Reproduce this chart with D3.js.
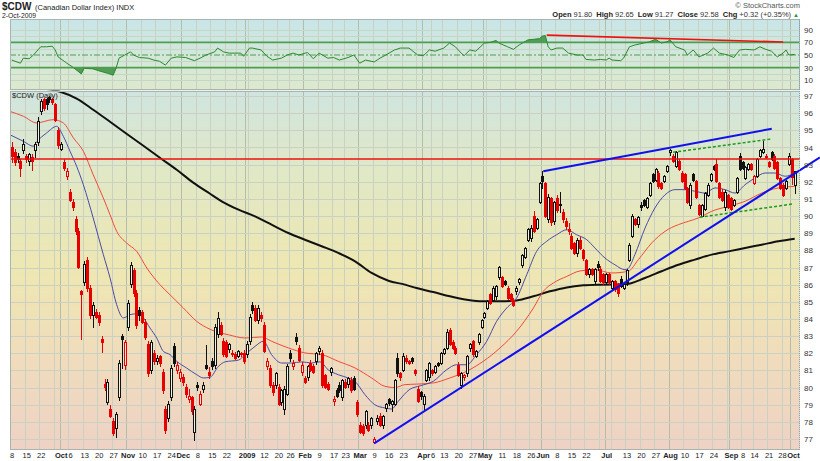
<!DOCTYPE html>
<html><head><meta charset="utf-8">
<script src="https://cdn.jsdelivr.net/npm/d3@7/dist/d3.min.js"></script>
<style>
body{margin:0;background:#fff;}
svg{display:block;font-family:"Liberation Sans",Arial,sans-serif;}
</style></head>
<body><svg id="c" width="820" height="461"></svg>
<script>
// ---------------- DATA ----------------
const startDate = "2008-09-08";
const holidays = ["2008-11-27","2008-12-25","2009-01-01","2009-01-19","2009-02-16","2009-04-10","2009-05-25","2009-07-03","2009-09-07"];
// [open, high, low, close]
const sep08 = [[94.0,94.3,93.1,93.5],[93.7,93.9,92.9,93.1],[93.5,93.7,93.1,93.3],[93.2,93.3,92.3,92.8],[93.8,94.5,93.6,94.2],[93.5,93.6,93.1,93.3],[93.2,93.7,92.9,93.6],[93.4,93.6,92.6,93.2],[93.8,94.3,93.4,94.2],[94.3,95.8,94.1,95.5],[96.1,96.8,95.9,96.7],[96.8,96.9,96.1,96.3],[96.8,96.9,96.2,96.5],[96.9,97.0,96.6,96.8],[96.8,96.9,96.5,96.6],[96.5,96.6,95.5,95.6],[95.0,95.2,93.9,94.1]];
const oct08 = [[93.9,94.3,93.8,94.2],[93.1,93.3,92.6,92.8],[92.3,92.8,92.1,92.6],[91.4,91.6,90.8,90.9],[90.8,91.0,90.3,90.5],[89.8,90.0,88.9,89.1],[89.1,89.3,86.9,87.0],[85.6,85.7,82.8,85.4],[86.1,87.4,85.9,87.2],[87.4,87.6,85.6,85.8],[85.8,86.0,84.0,84.2],[84.2,85.0,83.5,84.8],[84.4,84.6,84.0,84.1],[84.2,84.4,83.6,83.8],[82.8,83.0,82.0,82.6],[80.2,80.5,79.8,80.0],[79.1,80.5,79.0,80.3],[78.7,79.0,78.2,78.3],[78.0,78.2,77.2,77.3],[77.6,78.6,77.05,78.4],[79.4,81.6,79.2,81.4],[83.0,83.1,81.1,82.8],[81.3,82.8,81.0,82.6]];
const nov08 = [[83.5,85.1,83.3,84.9],[86.0,87.3,85.8,87.1],[86.8,87.0,85.3,85.5],[85.5,85.7,83.4,83.6],[84.5,84.7,83.9,84.2],[84.4,84.5,83.7,83.8],[83.8,84.0,82.8,82.9],[82.5,82.7,80.6,80.8],[81.0,82.8,80.8,82.6],[82.0,82.2,81.3,81.5],[81.5,81.9,81.3,81.7],[81.8,81.9,81.2,81.4],[80.9,81.1,79.6,79.8],[78.7,78.9,77.3,77.5],[78.2,79.2,78.0,79.0],[79.4,81.3,79.2,81.1],[82.4,82.6,81.2,81.4],[81.0,81.5,80.8,81.3],[80.5,81.1,80.3,80.9]];
const dec08 = [[80.6,80.8,80.1,80.3],[80.0,80.2,79.4,79.6],[79.3,79.9,79.1,79.5],[79.4,79.5,78.4,78.6],[77.4,78.9,76.9,78.7],[80.1,80.3,79.8,80.0],[79.0,79.8,78.9,79.6],[79.9,80.3,79.7,80.1],[81.3,82.5,81.0,81.1],[80.9,81.2,80.5,80.7],[81.5,81.7,81.0,81.2],[81.3,83.7,81.1,83.5],[83.1,84.4,82.9,84.0],[83.6,83.8,83.0,83.1],[82.7,82.9,81.8,81.9],[82.6,82.8,81.7,81.8],[82.2,82.6,82.0,82.5],[82.0,82.2,81.8,81.9],[81.9,82.1,81.6,81.7],[81.8,82.2,81.7,82.1],[82.0,82.1,81.8,81.9],[82.0,82.2,81.4,81.5]];
const jan09 = [[81.9,82.7,81.7,82.5],[82.7,84.3,82.5,84.1],[84.8,85.0,84.3,84.5],[84.6,84.8,83.8,83.9],[83.9,84.8,83.7,84.6],[84.2,84.4,83.8,84.0],[83.6,83.8,82.0,82.1],[81.2,81.7,81.0,81.5],[81.1,81.3,80.0,80.1],[80.1,80.3,79.5,79.7],[80.1,80.9,79.9,80.8],[80.0,80.2,78.9,79.0],[79.1,79.9,78.9,79.8],[78.7,80.1,78.4,79.9],[79.6,81.4,79.5,81.2],[82.0,82.2,81.5,81.7],[81.2,81.6,81.0,81.4],[82.9,83.2,82.5,82.7],[82.3,82.5,81.5,81.6],[80.9,81.5,80.7,81.3]];
const feb09 = [[80.5,80.7,80.2,80.3],[80.6,81.3,80.4,81.2],[81.4,81.6,80.9,81.0],[81.2,81.4,80.8,80.9],[81.5,82.1,81.3,82.0],[82.1,82.4,81.9,82.3],[82.0,82.2,80.0,80.1],[80.7,80.8,79.9,80.0],[80.2,80.3,79.8,79.9],[80.9,81.2,80.7,81.1],[79.2,79.5,78.9,79.3],[79.8,80.0,79.4,79.5],[80.1,80.3,79.7,79.8],[79.4,80.5,79.2,80.4],[80.3,80.5,79.9,80.0],[80.2,80.6,80.0,80.5],[80.4,80.6,79.7,79.8],[80.5,80.7,79.8,79.9],[79.1,79.3,78.3,78.4]];
const mar09 = [[77.8,78.0,77.3,77.4],[77.7,77.9,77.2,77.3],[77.8,78.7,77.6,78.6],[77.8,78.0,77.4,77.5],[77.8,78.3,77.6,78.2],[76.8,77.1,76.7,77.0],[78.0,78.4,77.8,78.2],[78.3,78.5,77.7,77.8],[77.8,78.4,77.6,78.3],[78.8,79.1,78.6,79.0],[79.3,79.4,78.9,79.05],[79.0,79.3,78.6,79.2],[79.0,80.5,78.9,80.4],[81.7,82.0,80.6,80.8],[80.8,80.9,80.4,80.6],[81.0,82.0,80.9,81.8],[81.7,81.9,81.4,81.5],[81.5,81.6,81.3,81.4],[81.7,81.8,81.4,81.5],[81.0,81.1,80.7,80.8],[79.9,80.1,79.1,79.2],[79.7,79.8,79.3,79.5]];
const apr09 = [[79.0,79.6,78.7,79.5],[80.4,81.1,80.3,81.0],[80.6,81.5,80.4,81.4],[81.0,81.1,80.7,80.8],[80.9,81.3,80.8,81.2],[81.4,81.5,81.2,81.3],[81.4,82.1,81.3,82.0],[82.0,82.3,81.9,82.2],[82.3,83.4,82.2,83.2],[83.3,83.5,82.4,82.5],[82.6,82.8,82.2,82.3],[82.3,82.4,81.9,82.0],[81.3,81.5,80.6,80.7],[80.1,80.9,79.9,80.8],[80.6,80.8,80.4,80.7],[80.8,81.9,80.6,81.8],[82.3,82.6,82.1,82.5],[82.7,82.8,81.8,81.9],[81.8,82.2,81.7,82.1],[82.6,83.2,82.5,83.1],[83.5,84.0,83.4,83.9]];
const may09 = [[84.1,84.4,84.0,84.3],[84.6,85.1,84.5,85.0],[85.4,85.5,84.8,84.9],[85.1,85.9,85.0,85.8],[85.3,86.0,85.1,85.9],[86.4,87.1,86.3,87.0],[86.4,86.5,85.8,85.9],[86.2,86.3,85.9,86.0],[85.8,85.9,85.1,85.2],[85.4,85.5,85.0,85.1],[85.1,85.2,84.7,84.8],[85.6,85.9,85.4,85.8],[86.1,86.4,86.0,86.3],[87.1,87.8,87.0,87.7],[87.6,88.2,87.5,88.1],[88.6,89.3,88.5,89.2],[88.7,89.5,88.5,89.3],[90.0,90.3,89.0,89.1],[89.3,89.9,89.2,89.8],[90.8,92.0,90.7,91.9]];
const jun09 = [[92.3,92.6,91.6,92.0],[91.9,92.0,89.9,90.0],[89.8,91.3,89.6,91.1],[91.0,91.1,89.4,89.6],[89.7,90.9,89.5,90.8],[91.0,91.2,90.2,90.3],[90.7,91.4,90.2,90.6],[90.2,90.4,89.6,89.8],[89.7,89.9,89.2,89.4],[89.2,89.6,88.9,89.1],[88.8,89.0,88.0,88.1],[88.4,88.5,87.7,87.8],[87.8,88.7,87.6,88.6],[88.6,88.8,88.0,88.1],[88.0,88.1,87.4,87.5],[87.4,87.5,86.5,86.6],[86.6,87.0,86.4,86.9],[86.9,87.0,86.5,86.6],[86.2,87.0,86.0,86.9],[87.2,87.4,86.8,87.0],[86.9,87.1,86.1,86.2],[86.6,86.7,86.0,86.1]];
const jul09 = [[86.1,86.7,86.0,86.6],[86.6,86.7,86.0,86.1],[85.8,86.3,85.7,86.2],[86.2,86.3,85.6,85.7],[86.0,86.1,85.3,85.5],[86.3,86.5,85.8,85.9],[85.8,86.1,85.7,86.0],[86.1,86.9,85.9,86.8],[87.4,88.4,87.3,88.3],[88.8,90.1,88.7,90.0],[89.8,89.9,89.4,89.5],[89.5,90.0,89.3,89.9],[90.6,90.8,90.3,90.5],[90.9,91.0,90.5,90.6],[90.5,91.1,90.4,91.0],[91.2,92.0,91.1,91.9],[92.4,92.5,91.9,92.0],[92.1,92.8,92.0,92.7],[92.5,92.6,91.6,91.7],[91.9,92.0,91.5,91.6],[92.0,92.4,91.9,92.3],[92.6,93.0,92.5,92.9]];
const aug09 = [[93.7,93.9,93.5,93.8],[93.5,93.6,93.1,93.2],[92.9,93.8,92.8,93.7],[93.2,93.3,92.6,92.7],[92.5,92.6,91.9,92.0],[92.4,92.5,91.5,91.6],[91.6,91.7,90.7,90.8],[90.6,91.9,90.4,91.8],[92.4,92.5,92.0,92.1],[92.0,92.1,91.0,91.1],[90.6,90.7,90.0,90.1],[90.0,90.7,89.95,90.6],[90.4,91.4,90.3,91.3],[91.2,91.9,91.1,91.8],[92.1,92.5,92.0,92.4],[92.9,93.0,92.6,92.7],[93.0,93.3,91.9,92.0],[91.9,92.0,91.0,91.1],[91.4,91.6,90.8,90.9],[90.5,91.5,90.3,91.4],[91.2,91.3,90.4,90.5]];
const sep09 = [[91.0,91.1,90.3,90.4],[90.6,91.0,90.5,90.9],[91.4,92.3,91.3,92.2],[93.5,93.7,92.6,92.7],[93.1,93.2,92.7,92.8],[92.2,92.9,92.1,92.85],[92.7,93.1,92.6,93.0],[93.0,93.1,92.6,92.7],[91.9,92.4,91.8,92.3],[92.3,93.4,92.2,93.3],[93.5,93.9,93.4,93.8],[93.7,94.4,93.6,93.9],[93.5,93.6,93.3,93.4],[93.1,93.2,92.8,92.9],[93.7,93.8,93.2,93.3],[93.5,93.6,92.7,92.8],[93.1,93.2,92.1,92.2],[92.2,92.3,91.5,91.6],[91.8,91.9,91.1,91.2],[91.6,92.1,91.5,92.0],[93.0,93.7,92.9,93.5]];
const oct09 = [[93.3,93.4,91.8,92.26],[91.80,92.65,91.27,92.58]];

// moving averages: [bar index, value]
const ma20 = [[-0.6,94.74],[4,94.36],[7.5,94.07],[8.5,94.3],[12,94.84],[15.5,95.23],[17.8,94.65],[20.1,93.78],[22.4,92.9],[24.7,91.83],[28.1,89.89],[31.6,87.75],[33.9,86.4],[36.2,84.83],[38.5,84.06],[40.8,84.25],[43.1,84.3],[45.4,84.06],[47.7,83.47],[50,82.89],[52.3,82.11],[54.6,81.92],[56.9,81.53],[60.3,81.14],[63.8,80.75],[66.1,80.56],[68.4,80.6],[71.3,81.24],[73.6,81.5],[78.2,81.6],[80.5,81.92],[83.9,82.4],[86.8,82.7],[89.6,81.92],[93.1,81.43],[96.5,81.43],[100,81.5],[103.4,81.43],[106.3,81.5],[109.1,81.04],[112.6,80.75],[116,80.56],[118.3,80.37],[121.8,79.59],[125.2,79.0],[128.7,78.81],[131,78.75],[133.3,79.2],[137.3,79.9],[140.8,80.1],[145.4,80.37],[150,81.04],[153.4,81.33],[156.9,81.33],[160.3,81.92],[163.8,82.7],[167.2,83.86],[170.7,84.64],[174.1,85.22],[177.6,86.58],[181,87.94],[184.5,88.53],[187.9,88.91],[191.4,89.2],[194.8,88.91],[198.3,88.62],[201.1,88.14],[204.6,87.55],[208,87.16],[211.5,86.87],[212.6,86.95],[214.9,87.75],[218.4,89.3],[221.8,90.47],[225.3,91.24],[228.7,91.54],[232.2,91.54],[235.6,91.45],[239.1,91.34],[242.5,91.64],[246,91.54],[249.4,91.34],[252.9,91.83],[256.3,92.22],[259.8,92.51],[263.2,92.51],[266.7,92.32],[270,92.51]];
const ma50 = [[-0.6,96.1],[4,95.82],[8.6,95.43],[14.3,95.62],[17.8,95.43],[21.3,94.55],[24.7,93.78],[28.1,92.41],[31.6,91.05],[33.9,90.08],[36.2,89.11],[39.6,88.43],[43.1,87.94],[46.6,86.97],[51.1,86.0],[54.6,85.41],[59.2,84.64],[63.8,83.86],[68.4,83.4],[70.1,83.28],[74.7,83.08],[80.5,82.89],[86.2,82.95],[89.6,82.7],[95.4,82.31],[101.1,82.02],[106.9,81.92],[112.6,81.53],[118.4,81.14],[124.1,80.56],[128.7,80.07],[132.2,80.0],[135.6,80.17],[139.6,80.2],[145.4,80.27],[151.1,80.56],[156.9,80.95],[162.6,81.53],[168.4,82.31],[174.1,83.28],[179.9,84.64],[183.3,85.61],[186.8,86.1],[191.4,86.48],[196,86.8],[201.1,86.87],[206.9,86.68],[212.6,86.78],[216.1,87.46],[220.7,88.43],[225.3,89.11],[229.9,89.5],[233.3,89.69],[236.8,89.89],[241.4,90.28],[247.1,90.57],[252.9,90.86],[258.6,91.34],[264.4,91.64],[270,91.73]];
const ma200 = [[10,97.45],[16.7,97.25],[22.4,96.85],[28.1,96.2],[33.9,95.5],[39.6,94.8],[45.4,94.1],[51.1,93.4],[56.9,92.7],[62.6,91.95],[68.4,91.3],[72.4,90.86],[78.2,90.37],[83.9,89.98],[89.6,89.5],[95.4,89.01],[101.1,88.62],[106.9,88.24],[112.6,87.85],[118.4,87.36],[124.1,86.68],[129.9,86.23],[135.6,86.0],[139.6,85.8],[145.4,85.57],[151.1,85.32],[156.9,85.12],[162.6,85.03],[168.4,85.03],[174.1,85.08],[179.9,85.32],[185.6,85.61],[191.4,85.84],[197.1,85.96],[202.9,86.0],[211.5,86.02],[218.4,86.39],[224.1,86.78],[229.9,87.16],[235.6,87.46],[241.4,87.75],[247.1,87.94],[252.9,88.14],[258.6,88.33],[264.4,88.53],[270,88.68]];
// RSI(14): [bar index, value]
const rsi = [[0,42],[3,37],[4,45],[6,44],[7.5,50],[10,63],[12,63],[14,64],[15,58],[16,47],[19,37],[21,31],[24,20],[25,29],[28,28],[30,25],[33,21],[35,18],[36,29],[37,45],[39,50],[41,55],[42,50],[44,46],[47,45],[49,42],[51,40],[53,34],[55,45],[57,47],[60,46],[63,41],[65,45],[67,50],[70,55],[71,61],[73,55],[75,53],[79,53],[80,48],[82,61],[83,61],[86,58],[88,48],[90,42],[93,45],[95,50],[97,53],[99,50],[102,54],[104,44],[106,53],[109,45],[111,46],[113,42],[116,46],[118,50],[120,37],[122,42],[125,39],[127,45],[129,50],[132,58],[134,61],[137,61],[140,50],[142,49],[144,58],[146,56],[149,61],[151,69],[153,63],[155,53],[156,49],[158,58],[160,56],[163,69],[165,70],[167,73],[168,69],[171,63],[173,59],[175,66],[178,74],[180,75],[182,76],[183,80],[184,81],[185,63],[186,58],[188,61],[190,61],[192,53],[195,50],[197,50],[198,43],[201,42],[203,43],[205,42],[206,45],[207,42],[210,41],[211,45],[213,63],[215,66],[218,69],[220,71],[222,75],[224,69],[226,71],[227,74],[229,63],[232,58],[233,50],[235,58],[237,47],[240,53],[242,61],[244,53],[247,50],[249,46],[251,58],[253,59],[256,58],[258,63],[260,59],[262,56],[264,47],[266,53],[267,58],[268,50],[270,51]];
// annotations: [bar index, value] endpoints
const resistanceLevel = 93.33;
const supportLine = [[125,76.75],[278.7,93.42]];
const upperLine = [[183.3,92.61],[262.1,95.09]];
const dashUpper = [[228.1,93.72],[261.8,94.49]];
const dashLower = [[237.3,89.93],[269.2,90.7]];
const rsiDivLine = [[184.5,81.6],[266,70.6]];
const priceTicks = [77,78,79,80,81,82,83,84,85,86,87,88,89,90,91,92,93,94,95,96,97];
const rsiTicks = [10,30,50,70,90];
const xTicks = [["2008-09-08","8"],["2008-09-15","15"],["2008-09-22","22"],["2008-10-01","Oct"],["2008-10-06","6"],["2008-10-13","13"],["2008-10-20","20"],["2008-10-27","27"],["2008-11-03","Nov"],["2008-11-10","10"],["2008-11-17","17"],["2008-11-24","24"],["2008-12-01","Dec"],["2008-12-08","8"],["2008-12-15","15"],["2008-12-22","22"],["2009-01-02","2009"],["2009-01-12","12"],["2009-01-20","20"],["2009-01-26","26"],["2009-02-02","Feb"],["2009-02-09","9"],["2009-02-17","17"],["2009-02-23","23"],["2009-03-02","Mar"],["2009-03-09","9"],["2009-03-16","16"],["2009-03-23","23"],["2009-04-01","Apr"],["2009-04-06","6"],["2009-04-13","13"],["2009-04-20","20"],["2009-04-27","27"],["2009-05-01","May"],["2009-05-11","11"],["2009-05-18","18"],["2009-05-26","26"],["2009-06-01","Jun"],["2009-06-08","8"],["2009-06-15","15"],["2009-06-22","22"],["2009-07-01","Jul"],["2009-07-13","13"],["2009-07-20","20"],["2009-07-27","27"],["2009-08-03","Aug"],["2009-08-10","10"],["2009-08-17","17"],["2009-08-24","24"],["2009-09-01","Sep"],["2009-09-08","8"],["2009-09-14","14"],["2009-09-21","21"],["2009-09-28","28"],["2009-10-01","Oct"]];

// ---------------- BUILD ----------------
const raw = [].concat(sep08,oct08,nov08,dec08,jan09,feb09,mar09,apr09,may09,jun09,jul09,aug09,sep09,oct09);
const fmt = d3.utcFormat("%Y-%m-%d");
const hol = new Set(holidays);
const dates = [];
let dt = new Date(startDate+"T00:00:00Z");
while (dates.length < raw.length) {
  const wd = dt.getUTCDay();
  if (wd !== 0 && wd !== 6 && !hol.has(fmt(dt))) dates.push(new Date(dt));
  dt = d3.utcDay.offset(dt, 1);
}
const bars = raw.map((d,i)=>({i, date:dates[i], o:d[0], h:d[1], l:d[2], c:d[3]}));
bars.forEach((b,i)=>{ const p = i ? bars[i-1].c : b.o; b.up = b.c >= p; b.filled = b.c < b.o; });
const idxOf = new Map(dates.map((d,i)=>[fmt(d),i]));

const L=10, R=800, rsiTop=19, rsiBot=89, mainTop=90.5, mainBot=450;
const svg = d3.select("#c");
const x = d3.scaleLinear().domain([0, raw.length-1]).range([11.7, 794.7]);
const y = d3.scaleLinear().domain([77,97]).range([439,96]);
const yr = d3.scaleLinear().domain([0,100]).range([86.5,23.5]);

const defs = svg.append("defs");
const g1 = defs.append("linearGradient").attr("id","gRsi").attr("x1",0).attr("y1",0).attr("x2",0).attr("y2",1);
[[0,"#c8e5e8"],[1,"#dde9cd"]].forEach(s=>g1.append("stop").attr("offset",s[0]).attr("stop-color",s[1]));
const g2 = defs.append("linearGradient").attr("id","gMain").attr("x1",0).attr("y1",0).attr("x2",0).attr("y2",1);
[[0,"#d0e5e0"],[0.22,"#e0e8c6"],[0.5,"#eee7b2"],[0.75,"#f0dcbc"],[1,"#eed2c5"]].forEach(s=>g2.append("stop").attr("offset",s[0]).attr("stop-color",s[1]));
defs.append("clipPath").attr("id","cMain").append("rect").attr("x",L).attr("y",mainTop).attr("width",R-L).attr("height",mainBot-mainTop);
defs.append("clipPath").attr("id","cRsi").append("rect").attr("x",L).attr("y",rsiTop).attr("width",R-L).attr("height",rsiBot-rsiTop);
defs.append("clipPath").attr("id","cOB").append("rect").attr("x",L).attr("y",rsiTop).attr("width",R-L).attr("height",yr(70)-rsiTop);
defs.append("clipPath").attr("id","cOS").append("rect").attr("x",L).attr("y",yr(30)).attr("width",R-L).attr("height",rsiBot-yr(30));

// backgrounds
svg.append("rect").attr("x",L).attr("y",rsiTop).attr("width",R-L).attr("height",rsiBot-rsiTop).attr("fill","url(#gRsi)");
svg.append("rect").attr("x",L).attr("y",mainTop).attr("width",R-L).attr("height",mainBot-mainTop).attr("fill","url(#gMain)");

// vertical grid (week starts / month starts)
const grid = svg.append("g").attr("shape-rendering","crispEdges");
bars.forEach((b,i)=>{
  if (i===0) return;
  const p = bars[i-1].date, d = b.date;
  const newMonth = d.getUTCMonth() !== p.getUTCMonth();
  const newWeek = d.getUTCDay() < p.getUTCDay() || (d - p) > 3*864e5;
  if (newMonth || newWeek) {
    const xx = Math.round(x(i-0.5))+0.5;
    [[rsiTop,rsiBot],[mainTop,mainBot]].forEach(r=>grid.append("line").attr("x1",xx).attr("x2",xx).attr("y1",r[0]).attr("y2",r[1])
      .attr("stroke", newMonth ? "#b4bcaa" : "#cbd1c2").attr("stroke-width",1));
  }
});
// horizontal grid
priceTicks.forEach(v=>grid.append("line").attr("x1",L).attr("x2",R).attr("y1",Math.round(y(v))+0.5).attr("y2",Math.round(y(v))+0.5).attr("stroke","#cbd1c2"));
d3.range(10,100,10).forEach(v=>{ if([30,50,70].includes(v)) return;
  grid.append("line").attr("x1",L).attr("x2",R).attr("y1",Math.round(yr(v))+0.5).attr("y2",Math.round(yr(v))+0.5).attr("stroke","#c4d6c6"); });

// RSI panel
const rsiG = svg.append("g").attr("clip-path","url(#cRsi)");
const rsiLine = d3.line().x(d=>x(d[0])).y(d=>yr(d[1]));
rsiG.append("path").datum(rsi).attr("clip-path","url(#cOB)").attr("fill","#3b8f43").attr("opacity",0.85)
  .attr("d", d3.area().x(d=>x(d[0])).y0(yr(70)).y1(d=>yr(d[1]))(rsi));
rsiG.append("path").datum(rsi).attr("clip-path","url(#cOS)").attr("fill","#3b8f43").attr("opacity",0.85)
  .attr("d", d3.area().x(d=>x(d[0])).y0(yr(30)).y1(d=>yr(d[1]))(rsi));
[70,30].forEach(v=>rsiG.append("line").attr("x1",L).attr("x2",R).attr("y1",yr(v)).attr("y2",yr(v)).attr("stroke","#4e9e52").attr("stroke-width",1.6));
rsiG.append("line").attr("x1",L).attr("x2",R).attr("y1",yr(50)).attr("y2",yr(50)).attr("stroke","#4e9e52").attr("stroke-width",1).attr("stroke-dasharray","6,2,2,2");
rsiG.append("path").datum(rsi).attr("fill","none").attr("stroke","#2a8a2a").attr("stroke-width",1).attr("d",rsiLine);
rsiG.append("path").datum(rsiDivLine).attr("fill","none").attr("stroke","#f01010").attr("stroke-width",1.6).attr("d",rsiLine);

// main panel
const mg = svg.append("g").attr("clip-path","url(#cMain)");
const pl = d3.line().x(d=>x(d[0])).y(d=>y(d[1])).curve(d3.curveMonotoneX);
mg.append("path").datum(ma200).attr("fill","none").attr("stroke","#111").attr("stroke-width",2).attr("d",pl);
mg.append("path").datum(ma50).attr("fill","none").attr("stroke","#f04a3a").attr("stroke-width",1).attr("d",pl);
mg.append("path").datum(ma20).attr("fill","none").attr("stroke","#4a4aa6").attr("stroke-width",1).attr("d",pl);

const cg = mg.append("g").attr("shape-rendering","crispEdges");
bars.forEach(b=>{
  const cx = Math.round(x(b.i))+0.5;
  const col = b.up ? "#111" : "#e80000";
  cg.append("line").attr("x1",cx).attr("x2",cx).attr("y1",y(b.h)).attr("y2",y(b.l)).attr("stroke",col).attr("stroke-width",1);
  const top = y(Math.max(b.o,b.c)), bot = y(Math.min(b.o,b.c));
  cg.append("rect").attr("x",cx-1).attr("y",top).attr("width",2).attr("height",Math.max(0.8,bot-top))
    .attr("fill", b.filled ? col : (b.up ? "#f2f1e6" : "#fbe2dc")).attr("stroke",col).attr("stroke-width",1);
});

// annotations
mg.append("line").attr("x1",L).attr("x2",R).attr("y1",y(resistanceLevel)).attr("y2",y(resistanceLevel)).attr("stroke","#ee1111").attr("stroke-width",1.5);
const sl = d3.line().x(d=>x(d[0])).y(d=>y(d[1]));
mg.append("path").datum(upperLine).attr("fill","none").attr("stroke","#1010ee").attr("stroke-width",2).attr("d",sl);
mg.append("path").datum(dashUpper).attr("fill","none").attr("stroke","#1a9a1a").attr("stroke-width",1.5).attr("stroke-dasharray","3,2").attr("d",sl);
mg.append("path").datum(dashLower).attr("fill","none").attr("stroke","#1a9a1a").attr("stroke-width",1.5).attr("stroke-dasharray","3,2").attr("d",sl);
svg.append("path").datum(supportLine).attr("fill","none").attr("stroke","#1010ee").attr("stroke-width",2).attr("d",sl);

// borders
const bd = svg.append("g").attr("fill","none").attr("shape-rendering","crispEdges");
bd.append("rect").attr("x",L+0.5).attr("y",rsiTop+0.5).attr("width",R-L-1).attr("height",rsiBot-rsiTop).attr("stroke","#a9b3b0");
bd.append("line").attr("x1",L).attr("x2",R).attr("y1",mainTop+0.5).attr("y2",mainTop+0.5).attr("stroke","#a9b3b0");
bd.append("line").attr("x1",L+0.5).attr("x2",L+0.5).attr("y1",mainTop).attr("y2",mainBot).attr("stroke","#a9b3b0");
bd.append("line").attr("x1",L).attr("x2",R).attr("y1",mainBot-0.5).attr("y2",mainBot-0.5).attr("stroke","#a9b3b0");
bd.append("line").attr("x1",R-0.5).attr("x2",R-0.5).attr("y1",rsiTop).attr("y2",mainBot).attr("stroke","#7fa3c0").attr("stroke-dasharray","1,1");

// axes
const axMain = svg.append("g").attr("transform",`translate(${R},0)`)
  .call(d3.axisRight(y).tickValues(priceTicks).tickSize(0).tickPadding(4).tickFormat(d3.format("d")));
const axRsi = svg.append("g").attr("transform",`translate(${R},0)`)
  .call(d3.axisRight(yr).tickValues(rsiTicks).tickSize(0).tickPadding(4).tickFormat(d3.format("d")));
[axMain,axRsi].forEach(a=>{ a.select(".domain").remove(); a.selectAll("text").attr("font-size","8px").attr("fill","#333").attr("font-family","Liberation Sans, Arial, sans-serif"); });

const tickIdx = xTicks.map(t=>idxOf.get(t[0]));
const tickLab = new Map(xTicks.map(t=>[idxOf.get(t[0]), t[1]]));
const isMonth = lab => isNaN(+lab) || lab === "2009";
const axX = svg.append("g").attr("transform",`translate(0,${mainBot})`)
  .call(d3.axisBottom(x).tickValues(tickIdx).tickSize(0).tickPadding(3).tickFormat(i=>tickLab.get(i)));
axX.select(".domain").remove();
axX.selectAll("text").attr("font-size","7.5px").attr("fill","#222").attr("font-family","Liberation Sans, Arial, sans-serif")
  .attr("font-weight", i=> isMonth(tickLab.get(i)) ? "bold" : "normal");
// nudge touching tick labels apart
const tnodes = axX.selectAll(".tick").nodes();
for (let k=1;k<tnodes.length;k++){
  const a = tnodes[k-1].querySelector("text"), b = tnodes[k].querySelector("text");
  const ba = a.getBBox(), bb = b.getBBox();
  const ax0 = x(tickIdx[k-1]), bx0 = x(tickIdx[k]);
  const ov = (ax0 + ba.x + ba.width + (+a.getAttribute("dx")||0)) - (bx0 + bb.x) + 0.6;
  if (ov > 0) { a.setAttribute("dx", (+a.getAttribute("dx")||0) - ov/2); b.setAttribute("dx", ov/2); }
}

// header texts
const t = svg.append("g").attr("fill","#222");
t.append("text").attr("x",2).attr("y",9.5).attr("font-size","10px").attr("font-weight","bold").text("$CDW");
t.append("text").attr("x",35).attr("y",9.5).attr("font-size","7.5px").text("(Canadian Dollar Index) INDX");
t.append("text").attr("x",2).attr("y",18.3).attr("font-size","6.8px").text("2-Oct-2009");
t.append("text").attr("x",800).attr("y",7.5).attr("font-size","7.5px").attr("fill","#555").attr("text-anchor","end").text("© StockCharts.com");
const h2 = t.append("text").attr("x",799).attr("y",17.3).attr("text-anchor","end").attr("font-size","7.5px");
[["Open","91.80"],["High","92.65"],["Low","91.27"],["Close","92.58"],["Chg","+0.32 (+0.35%)"]].forEach((p,k)=>{
  h2.append("tspan").attr("font-weight","bold").attr("dx", k?4:0).text(p[0]);
  h2.append("tspan").attr("dx",2).attr("fill","#333").text(p[1]);
});
h2.append("tspan").attr("dx",2).attr("fill","#2a9a2a").attr("font-size","6px").text("▲");
t.append("text").attr("x",12).attr("y",97.5).attr("font-size","7.5px").attr("fill","#222").text("$CDW (Daily)");
</script></body></html>
